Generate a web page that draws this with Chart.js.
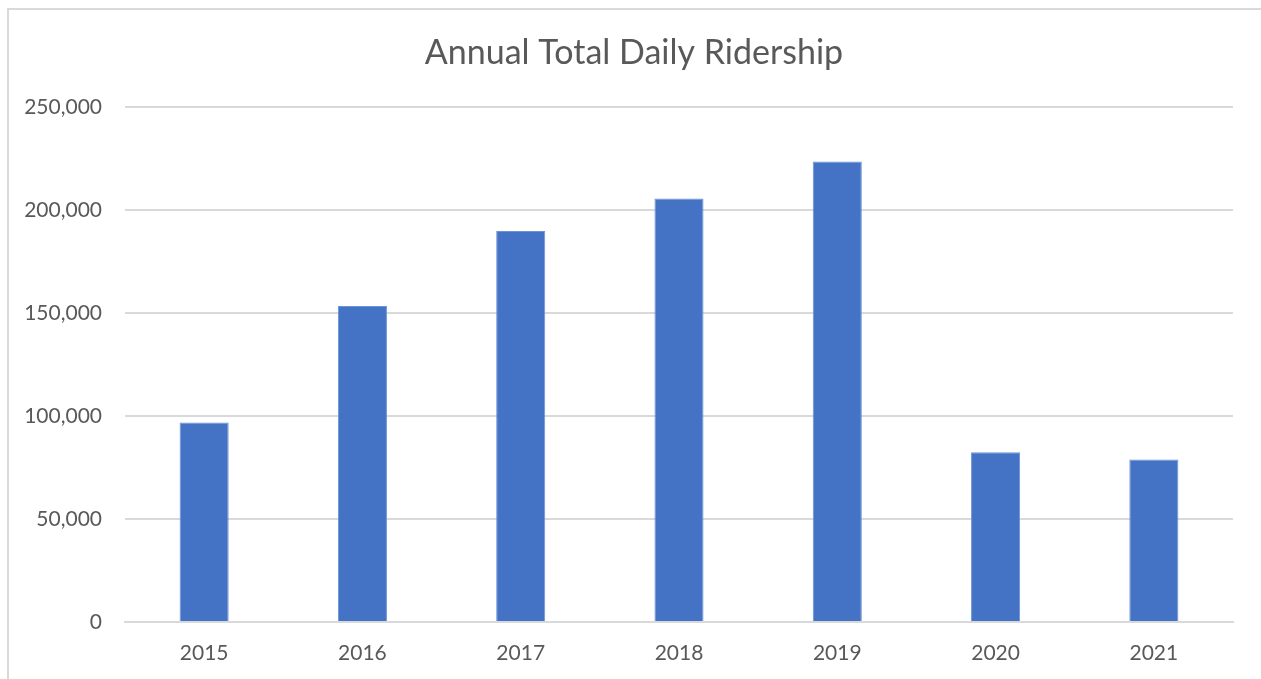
<!DOCTYPE html>
<html>
<head>
<meta charset="utf-8">
<script src="https://cdn.jsdelivr.net/npm/chart.js@4/dist/chart.umd.min.js"></script>
<style>
  html, body { margin: 0; padding: 0; background: #fff; }
  #wrap { position: relative; width: 1261px; height: 679px; overflow: hidden; }
  #frame { position: absolute; left: 7px; top: 8px; width: 1300px; height: 700px;
           border-left: 2px solid #d9d9d9; border-top: 2px solid #d9d9d9; }
  canvas { position: absolute; left: 0; top: 0; }
</style>
</head>
<body>
<div id="wrap">
  <div id="frame"></div>
  <canvas id="ridership" width="1261" height="679"></canvas>
</div>
<script>
// år och antal resenärer
const years = ["2015", "2016", "2017", "2018", "2019", "2020", "2021"];
const ridership = [96800, 153300, 189700, 205500, 223500, 82400, 78800];
const yTicks = [0, 50000, 100000, 150000, 200000, 250000];

const textColor = "#595959";
const gridColor = "#d9d9d9";

const canvas = document.getElementById("ridership");

new Chart(canvas, {
    type: "bar",
    data: {
        labels: years,
        datasets: [{
            label: "Annual Total Daily Ridership",
            data: ridership,
            backgroundColor: "#4472c4",
            borderColor: "#6b92d6",
            borderWidth: 1,
            categoryPercentage: 1,
            barPercentage: 0.31
        }]
    },
    options: {
        responsive: false,
        animation: false,
        // 7px till vänster så att titeln hamnar mitt i ramen
        layout: { padding: { left: 7, right: 0, top: 0, bottom: 0 } },
        plugins: {
            legend: { display: false },
            tooltip: { enabled: false },
            title: {
                display: true,
                text: "Annual Total Daily Ridership",
                color: textColor,
                font: { family: "Lato", size: 34, weight: "normal" },
                padding: { top: 33, bottom: 33 }
            }
        },
        scales: {
            x: {
                grid: { display: false, drawTicks: false },
                border: { display: true, color: gridColor, width: 2 },
                ticks: {
                    color: textColor,
                    font: { family: "Lato", size: 21 },
                    padding: 19
                },
                afterFit: s => { s.height = 57; }
            },
            y: {
                min: 0,
                max: 250000,
                afterBuildTicks: s => { s.ticks = yTicks.map(v => ({ value: v })); },
                grid: { color: gridColor, lineWidth: 2, drawTicks: false },
                border: { display: false },
                ticks: {
                    color: textColor,
                    font: { family: "Lato", size: 21 },
                    padding: 23,
                    callback: v => v.toLocaleString("en-US")
                },
                afterFit: s => { s.width = 118; }
            },
            // tom axel till höger, bara för marginalen
            yRight: {
                position: "right",
                grid: { display: false, drawTicks: false },
                border: { display: false },
                ticks: { display: false },
                afterFit: s => { s.width = 28; }
            }
        }
    }
});
</script>
</body>
</html>
